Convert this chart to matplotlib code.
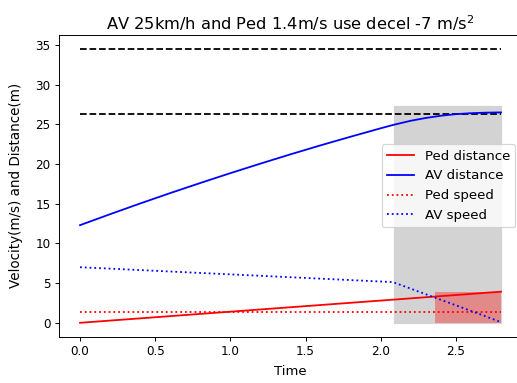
import matplotlib
matplotlib.use("Agg")
import matplotlib.pyplot as plt

# Simulation samples (s, m/s, m)
time = [0, 0.2, 0.4, 0.6, 0.8, 1.0, 1.2, 1.4, 1.6, 1.8, 2.0, 2.08,
        2.2, 2.3, 2.4, 2.5, 2.6, 2.7, 2.8]
av_speed = [7.0, 6.82, 6.64, 6.46, 6.28, 6.1, 5.92, 5.74, 5.56, 5.38, 5.2, 5.13,
            4.3, 3.6, 2.9, 2.2, 1.5, 0.8, 0.08]
av_distance = [12.3, 13.68, 15.03, 16.34, 17.61, 18.85, 20.05, 21.22, 22.35, 23.44,
               24.5, 24.91, 25.45, 25.8, 26.08, 26.28, 26.4, 26.47, 26.5]
ped_speed = [1.4] * len(time)
ped_distance = [0, 0.28, 0.56, 0.84, 1.12, 1.4, 1.68, 1.96, 2.24, 2.52, 2.8, 2.91,
                3.08, 3.22, 3.36, 3.5, 3.64, 3.78, 3.92]

# Reference distances (m)
stop_line = 26.3
far_line = 34.5

# Braking window and conflict window
brake_window = (2.09, 2.8)
brake_top = 27.3
conflict_window = (2.36, 2.8)
conflict_top = 3.92

dpi = 86.4
fig = plt.figure(figsize=(517 / dpi, 383 / dpi), dpi=dpi)
ax = fig.add_axes([59 / 517, 46.5 / 383, 463 / 517, 301.3 / 383])

ax.fill_between(brake_window, 0, brake_top, color="lightgray", zorder=1)
ax.fill_between(conflict_window, 0, conflict_top, color="red", alpha=0.35,
                linewidth=0, zorder=1.5)

ax.plot([time[0], time[-1]], [far_line, far_line], "k--", zorder=2)
ax.plot([time[0], time[-1]], [stop_line, stop_line], "k--", zorder=2)

ax.plot(time, ped_distance, color="red", label="Ped distance", zorder=3)
ax.plot(time, av_distance, color="blue", label="AV distance", zorder=3)
ax.plot(time, ped_speed, color="red", linestyle=":", label="Ped speed", zorder=3)
ax.plot(time, av_speed, color="blue", linestyle=":", label="AV speed", zorder=3)

ax.spines["right"].set_visible(False)
ax.set_xticks([0.0, 0.5, 1.0, 1.5, 2.0, 2.5])
ax.set_yticks([0, 5, 10, 15, 20, 25, 30, 35])
ax.tick_params(labelsize=10)
ax.set_xlabel("Time", fontsize=11, labelpad=6)
ax.set_ylabel("Velocity(m/s) and Distance(m)", fontsize=11.3, labelpad=10)
ax.set_title(r"AV 25km/h and Ped 1.4m/s use decel -7 m/s$^2$", fontsize=13.5, pad=4.5)
ax.legend(loc="center right", fontsize=11.2)

fig.savefig("out.png", dpi=dpi)
